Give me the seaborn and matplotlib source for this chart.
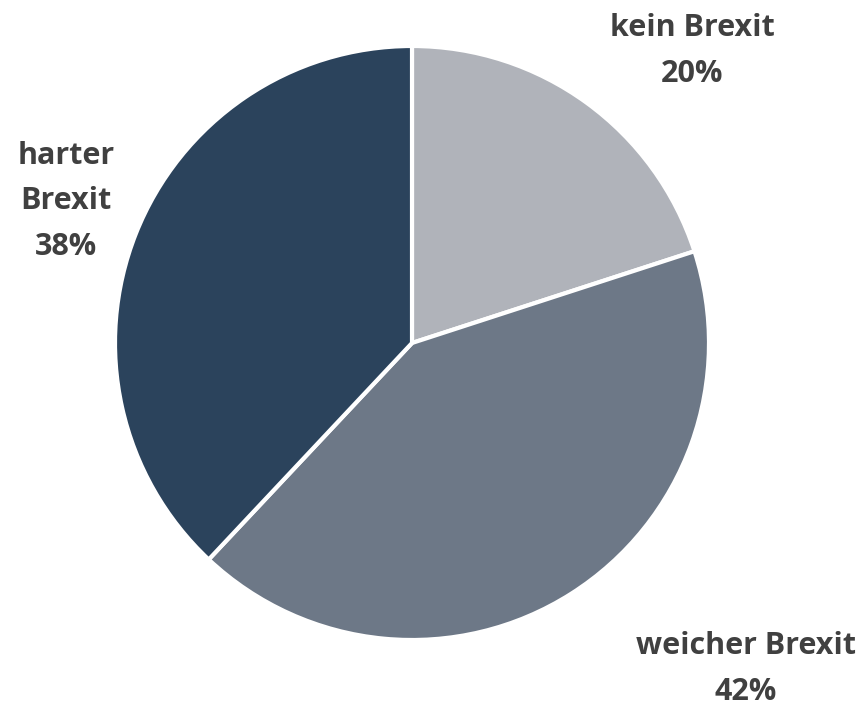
import matplotlib
matplotlib.use("Agg")
import matplotlib.pyplot as plt
import seaborn as sns

# Umfrage: bevorzugte Form des Brexit
categories = ["kein Brexit", "weicher Brexit", "harter Brexit"]
shares = [20, 42, 38]
label_texts = ["kein Brexit\n20%", "weicher Brexit\n42%", "harter\nBrexit\n38%"]
colors = ["#b0b3ba", "#6d7887", "#2b435c"]

sns.set_theme(style="white")
plt.rcParams["font.family"] = ["Open Sans", "DejaVu Sans"]

W, H, DPI = 859, 707, 100
fig = plt.figure(figsize=(W / DPI, H / DPI), dpi=DPI)
ax = fig.add_axes([0, 0, 1, 1])

# pie centre and radius in pixels
cx, cy, r = 412, 343, 297
ax.pie(shares, colors=colors, startangle=90, counterclock=False, radius=1,
       wedgeprops=dict(edgecolor="white", linewidth=3))
ax.set_xlim(-cx / r, (W - cx) / r)
ax.set_ylim(-(H - cy) / r, cy / r)
ax.set_aspect("equal")
ax.axis("off")

# label anchors: horizontal centre and last-line baseline, in pixels
label_px = [(692, 82), (746, 700), (66, 255)]
for txt, (px, py) in zip(label_texts, label_px):
    ax.text((px - cx) / r, (cy - py) / r, txt, ha="center", va="baseline",
            multialignment="center", fontsize=22, fontweight="bold",
            color="#404040", linespacing=1.68)

fig.savefig("out.png", dpi=DPI)
